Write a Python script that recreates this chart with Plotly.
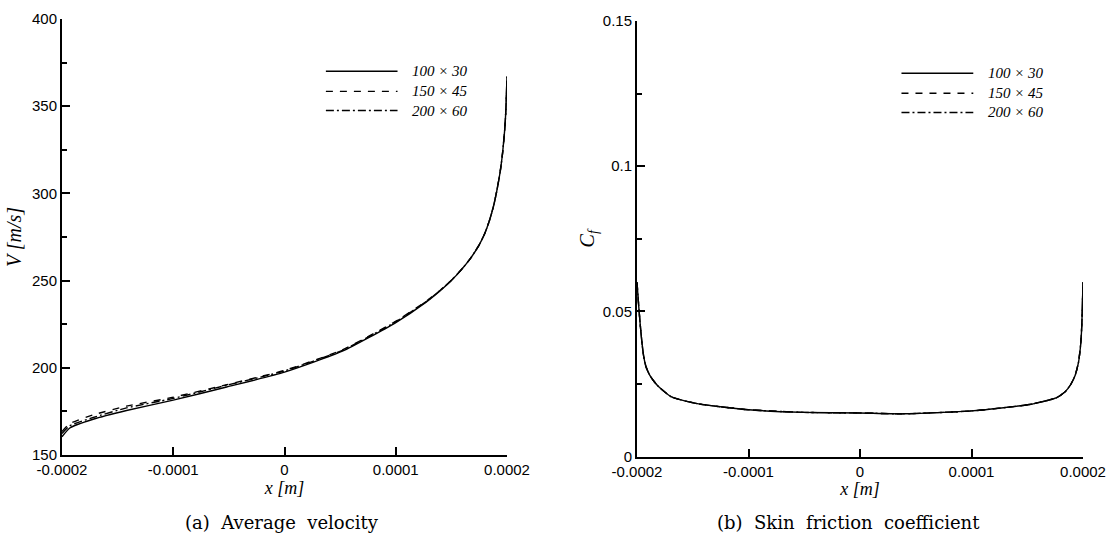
import plotly.graph_objects as go

# ---- data ---------------------------------------------------------------
# streamwise position [m]
X_V = [-0.0002, -0.000193, -0.000172, -0.000142, -0.000101, -0.000052, 0.0,
       0.000052, 0.000099, 0.000127, 0.000140, 0.000150, 0.000160, 0.000168,
       0.000175, 0.000180, 0.000184, 0.000188, 0.000191, 0.000194, 0.000196,
       0.000198, 0.000199, 0.0002]
# average velocity V [m/s] for each grid
V_100x30 = [160.5, 165.5, 170.5, 175.5, 181.3, 189.0, 197.5, 209.5, 225.5,
            237.5, 244.2, 250.0, 257.0, 263.5, 270.5, 277.0, 284.0, 293.0,
            302.0, 313.0, 323.0, 337.0, 348.0, 367.0]
V_150x45 = [163.5, 168.0, 173.0, 178.0, 183.0, 190.3, 198.5, 210.3, 226.3,
            238.0, 244.5, 250.2, 257.1, 263.5, 270.5, 277.0, 284.0, 293.0,
            302.0, 313.0, 323.0, 337.0, 348.0, 367.0]
V_200x60 = [162.3, 166.8, 171.5, 177.0, 182.3, 190.0, 198.2, 210.0, 226.0,
            237.8, 244.4, 250.1, 257.0, 263.5, 270.5, 277.0, 284.0, 293.0,
            302.0, 313.0, 323.0, 337.0, 348.0, 367.0]

X_CF = [-0.0002, -0.0001985, -0.000197, -0.0001955, -0.000194, -0.000192,
        -0.000189, -0.000185, -0.000181, -0.000169, -0.000146, -0.0001,
        -0.000051, 0.0, 0.000039, 0.0001, 0.000152, 0.000176, 0.000184,
        0.000189, 0.000193, 0.000196, 0.000198, 0.000199, 0.0002]
# skin friction coefficient Cf for each grid
CF_100x30 = [0.0600, 0.0520, 0.0450, 0.0390, 0.0345, 0.0310, 0.0283, 0.0260,
             0.0242, 0.0205, 0.0182, 0.0161, 0.0152, 0.0150, 0.0147, 0.0157,
             0.0179, 0.0202, 0.0223, 0.0248, 0.0280, 0.0325, 0.0390, 0.0460,
             0.0600]
CF_150x45 = [0.0600, 0.0520, 0.0450, 0.0390, 0.0345, 0.0310, 0.0283, 0.0260,
             0.0242, 0.0205, 0.0182, 0.0161, 0.0152, 0.0150, 0.0147, 0.0157,
             0.0179, 0.0202, 0.0223, 0.0248, 0.0280, 0.0325, 0.0390, 0.0460,
             0.0600]
CF_200x60 = [0.0600, 0.0520, 0.0450, 0.0390, 0.0345, 0.0310, 0.0283, 0.0260,
             0.0242, 0.0205, 0.0182, 0.0161, 0.0152, 0.0150, 0.0147, 0.0157,
             0.0179, 0.0202, 0.0223, 0.0248, 0.0280, 0.0325, 0.0390, 0.0460,
             0.0600]

GRID_NAMES = ["100 × 30", "150 × 45", "200 × 60"]

X_TICKS = [-0.0002, -0.0001, 0.0, 0.0001, 0.0002]
X_TICK_TEXT = ["-0.0002", "-0.0001", "0", "0.0001", "0.0002"]
V_TICKS = [150, 200, 250, 300, 350, 400]
CF_TICKS = [0, 0.05, 0.1, 0.15]
CF_TICK_TEXT = ["0", "0.05", "0.1", "0.15"]

CAPTIONS = ["(a)  Average  velocity", "(b)  Skin  friction  coefficient"]

# ---- styling ------------------------------------------------------------
W, H = 1113, 545
DASHES = ["solid", "7px,7px", "8px,3px,2px,3px"]
SANS = "Liberation Sans, Arial, sans-serif"
SERIF = "Liberation Serif, Times New Roman, serif"

fig = go.Figure()

for name, ys, dash in zip(GRID_NAMES, [V_100x30, V_150x45, V_200x60], DASHES):
    fig.add_trace(go.Scatter(
        x=X_V, y=ys, mode="lines", name=name, showlegend=False,
        line=dict(color="black", width=1.4, dash=dash, shape="spline", smoothing=0.5),
        xaxis="x", yaxis="y"))

for name, ys, dash in zip(GRID_NAMES, [CF_100x30, CF_150x45, CF_200x60], DASHES):
    fig.add_trace(go.Scatter(
        x=X_CF, y=ys, mode="lines", name=name, showlegend=False,
        line=dict(color="black", width=1.4, dash=dash, shape="spline", smoothing=0.5),
        xaxis="x2", yaxis="y2"))


def px_dom(a, b, total):
    return [a / total, b / total]


common_x = dict(
    range=[-0.0002, 0.0002], tickmode="array", tickvals=X_TICKS, ticktext=X_TICK_TEXT,
    ticks="inside", ticklen=8, tickwidth=2, tickcolor="black",
    showline=True, linecolor="black", linewidth=2, mirror=False,
    showgrid=False, zeroline=False, automargin=False,
    tickfont=dict(family=SANS, size=15, color="black"),
    title=dict(text="<i>x [m]</i>", font=dict(family=SERIF, size=18, color="black"),
               standoff=2),
)
common_y = dict(
    ticks="inside", ticklen=8, tickwidth=2, tickcolor="black",
    showline=True, linecolor="black", linewidth=2, mirror=False,
    showgrid=False, zeroline=False, automargin=False,
    tickfont=dict(family=SANS, size=15, color="black"),
)

fig.update_layout(
    width=W, height=H, autosize=False,
    margin=dict(l=0, r=0, t=0, b=0, autoexpand=False),
    paper_bgcolor="white", plot_bgcolor="white",
    xaxis=dict(domain=px_dom(62, 507, W), anchor="y", **common_x),
    yaxis=dict(domain=[1 - 455 / H, 1 - 19 / H], anchor="x", range=[150, 400],
               tickmode="array", tickvals=V_TICKS,
               minor=dict(dtick=25, ticks="inside", ticklen=5, tickwidth=1.5,
                          tickcolor="black", showgrid=False),
               title=dict(text="<i>V [m/s]</i>",
                          font=dict(family=SERIF, size=20, color="black"), standoff=5),
               **common_y),
    xaxis2=dict(domain=px_dom(637, 1083, W), anchor="y2", **common_x),
    yaxis2=dict(domain=[1 - 456.5 / H, 1 - 21 / H], anchor="x2", range=[0, 0.15],
                tickmode="array", tickvals=CF_TICKS, ticktext=CF_TICK_TEXT,
                minor=dict(dtick=0.025, ticks="inside", ticklen=5, tickwidth=1.5,
                           tickcolor="black", showgrid=False),
                title=dict(text="<i>C<sub>f</sub></i>",
                           font=dict(family=SERIF, size=20, color="black"), standoff=3),
                **common_y),
    showlegend=False,
)

# legend keys, drawn inside each panel
KEY_X0, KEY_X1, KEY_TEXT_X = 0.593, 0.754, 0.783
KEY_ROWS = [0.880, 0.834, 0.790]
for xr, yr in [("x domain", "y domain"), ("x2 domain", "y2 domain")]:
    for name, dash, yk in zip(GRID_NAMES, DASHES, KEY_ROWS):
        fig.add_shape(type="line", xref=xr, yref=yr, x0=KEY_X0, x1=KEY_X1, y0=yk, y1=yk,
                      line=dict(color="black", width=1.4, dash=dash))
        fig.add_annotation(xref=xr, yref=yr, x=KEY_TEXT_X, y=yk, text=name,
                           showarrow=False, xanchor="left", yanchor="middle",
                           font=dict(family=SERIF, size=15, color="black", style="italic"))

# panel captions
for cap, xc in zip(CAPTIONS, [282 / W, 848 / W]):
    fig.add_annotation(xref="paper", yref="paper", x=xc, y=1 - 522 / H, text=cap,
                       showarrow=False, xanchor="center", yanchor="middle",
                       font=dict(family="DejaVu Serif, serif", size=18, color="black"))

fig.write_html("out.html")
